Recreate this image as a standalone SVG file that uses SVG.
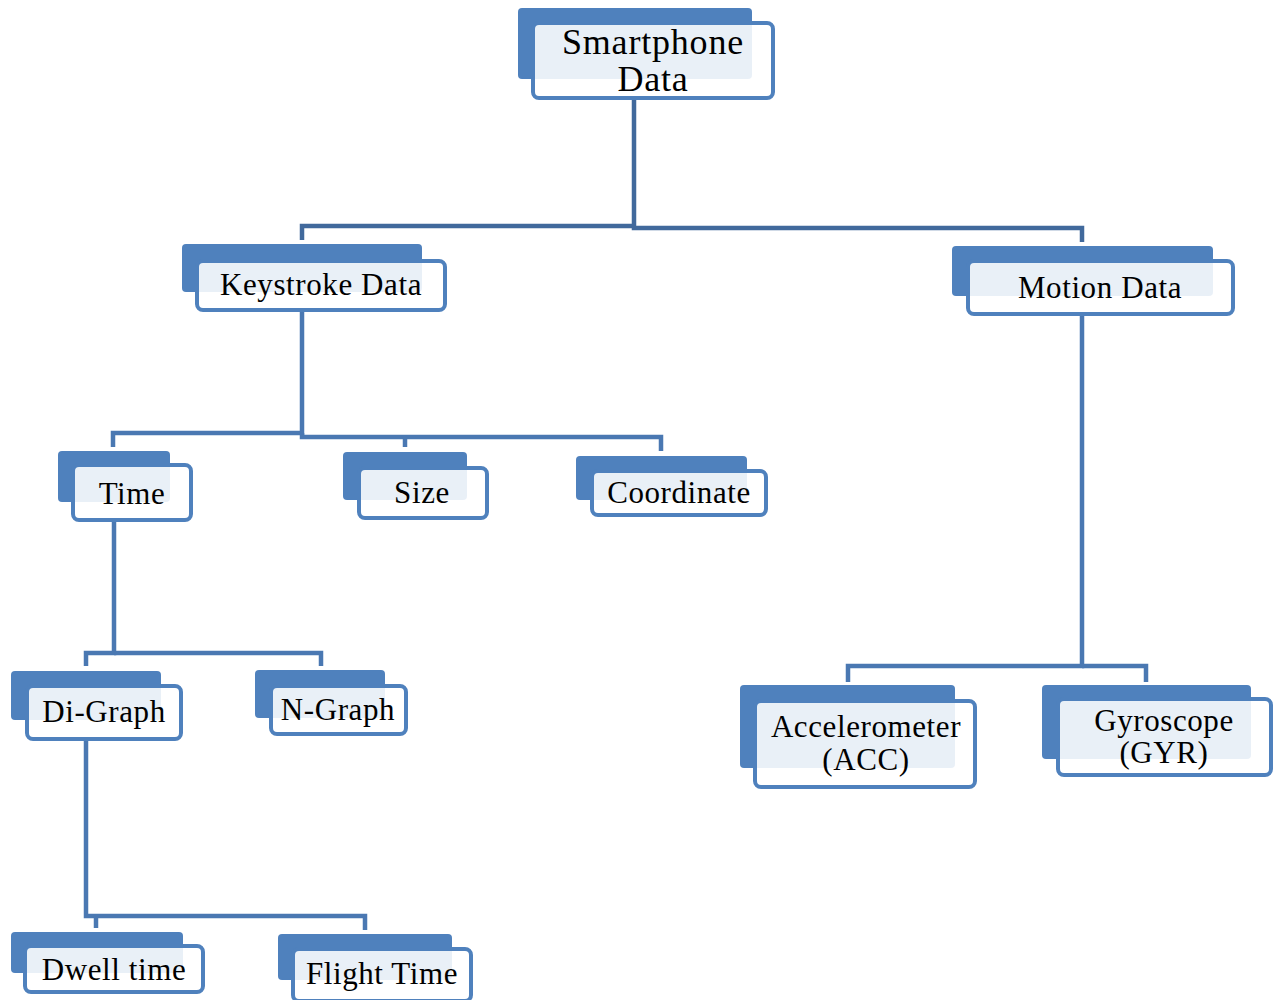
<svg xmlns="http://www.w3.org/2000/svg" width="1275" height="1000" viewBox="0 0 1275 1000">
<style>
.back{fill:#4F81BD}
.front{fill:#FFFFFF;fill-opacity:0.88;stroke:#4F81BD;stroke-width:4}
.t{font-family:"Liberation Serif","Times New Roman",serif;font-size:31px;letter-spacing:0.6px;fill:#000;text-anchor:middle}
.big{font-size:36px;letter-spacing:0.8px}
.c{fill:none;stroke:#4A78B2;stroke-width:4.5}
.cd{fill:none;stroke:#41699C;stroke-width:4.5}
</style>
<rect width="1275" height="1000" fill="#FFFFFF"/>
<g id="connectors">
<path class="cd" d="M634 100V226H302V240"/>
<path class="cd" d="M634 226V228H1082V242"/>
<path class="c" d="M302 310V433H113V447"/>
<path class="c" d="M302 433V437H661V451"/>
<path class="c" d="M405 437V447"/>
<path class="c" d="M1082 316V666H848V682"/>
<path class="c" d="M1082 666H1146V682"/>
<path class="c" d="M114 522V653H86V666"/>
<path class="c" d="M114 653H321V666"/>
<path class="c" d="M86 741V916H365V930"/>
<path class="c" d="M96 916V928"/>
</g>
<g id="n-smartphone">
<rect class="back" x="518" y="8" width="234" height="71" rx="4"/>
<rect class="front" x="533" y="23" width="240" height="75" rx="6"/>
<text class="t big" x="653" y="54">Smartphone</text>
<text class="t big" x="653" y="91">Data</text>
</g>
<g id="n-keystroke">
<rect class="back" x="182" y="244" width="240" height="48" rx="4"/>
<rect class="front" x="197" y="261" width="248" height="49" rx="6"/>
<text class="t" x="321" y="295">Keystroke Data</text>
</g>
<g id="n-motion">
<rect class="back" x="952" y="246" width="261" height="50" rx="4"/>
<rect class="front" x="968" y="261" width="265" height="53" rx="6"/>
<text class="t" x="1100" y="298">Motion Data</text>
</g>
<g id="n-time">
<rect class="back" x="58" y="451" width="112" height="51" rx="4"/>
<rect class="front" x="73" y="465" width="118" height="55" rx="6"/>
<text class="t" x="132" y="504">Time</text>
</g>
<g id="n-size">
<rect class="back" x="343" y="452" width="124" height="48" rx="4"/>
<rect class="front" x="359" y="468" width="128" height="50" rx="6"/>
<text class="t" x="422" y="503">Size</text>
</g>
<g id="n-coordinate">
<rect class="back" x="576" y="456" width="171" height="44" rx="4"/>
<rect class="front" x="592" y="471" width="174" height="44" rx="6"/>
<text class="t" x="679" y="503">Coordinate</text>
</g>
<g id="n-digraph">
<rect class="back" x="11" y="671" width="150" height="49" rx="4"/>
<rect class="front" x="27" y="686" width="154" height="53" rx="6"/>
<text class="t" x="104" y="722">Di-Graph</text>
</g>
<g id="n-ngraph">
<rect class="back" x="255" y="670" width="130" height="48" rx="4"/>
<rect class="front" x="271" y="686" width="135" height="48" rx="6"/>
<text class="t" x="338" y="720">N-Graph</text>
</g>
<g id="n-acc">
<rect class="back" x="740" y="685" width="215" height="83" rx="4"/>
<rect class="front" x="755" y="701" width="220" height="86" rx="6"/>
<text class="t" x="866" y="737">Accelerometer</text>
<text class="t" x="866" y="770">(ACC)</text>
</g>
<g id="n-gyr">
<rect class="back" x="1042" y="685" width="209" height="74" rx="4"/>
<rect class="front" x="1058" y="699" width="213" height="76" rx="6"/>
<text class="t" x="1164" y="731">Gyroscope</text>
<text class="t" x="1164" y="763">(GYR)</text>
</g>
<g id="n-dwell">
<rect class="back" x="11" y="932" width="172" height="41" rx="4"/>
<rect class="front" x="25" y="946" width="178" height="46" rx="6"/>
<text class="t" x="114" y="980">Dwell time</text>
</g>
<g id="n-flight">
<rect class="back" x="278" y="934" width="174" height="46" rx="4"/>
<rect class="front" x="293" y="949" width="178" height="52" rx="6"/>
<text class="t" x="382" y="984">Flight Time</text>
</g>
</svg>
